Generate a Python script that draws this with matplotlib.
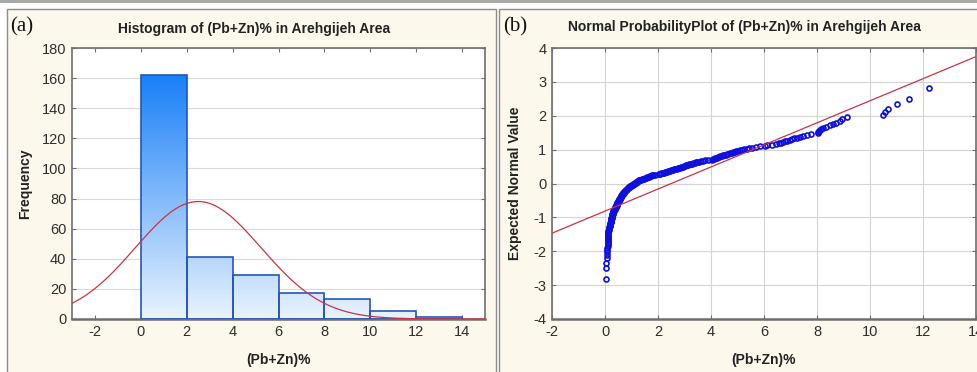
"""Histogram and normal probability plot of (Pb+Zn)% in the Arehgijeh area."""

from statistics import NormalDist

import matplotlib

matplotlib.use("Agg")
import matplotlib.pyplot as plt
import numpy as np
from matplotlib.colors import LinearSegmentedColormap
from matplotlib.patches import Rectangle

plt.rcParams["font.family"] = ["Liberation Sans", "DejaVu Sans"]
plt.rcParams["axes.unicode_minus"] = False

# histogram (panel a)
bin_edges = [0, 2, 4, 6, 8, 10, 12, 14]
bin_counts = [162, 41, 29, 17, 13, 5, 1]
fit_mean = 2.5   # fitted normal curve drawn over the histogram
fit_sd = 2.74

# sorted (Pb+Zn)% values (panel b)
pbzn_sorted = [
    0.04, 0.05, 0.05, 0.06, 0.07, 0.08, 0.09, 0.09, 0.10, 0.10,
    0.10, 0.11, 0.11, 0.11, 0.11, 0.12, 0.12, 0.12, 0.12, 0.13,
    0.13, 0.13, 0.14, 0.14, 0.15, 0.16, 0.16, 0.17, 0.18, 0.19,
    0.19, 0.20, 0.20, 0.21, 0.21, 0.22, 0.22, 0.23, 0.23, 0.24,
    0.24, 0.25, 0.25, 0.26, 0.26, 0.27, 0.27, 0.28, 0.28, 0.29,
    0.29, 0.30, 0.30, 0.31, 0.32, 0.32, 0.33, 0.34, 0.35, 0.36,
    0.36, 0.37, 0.38, 0.38, 0.39, 0.40, 0.41, 0.41, 0.42, 0.43,
    0.44, 0.44, 0.45, 0.45, 0.46, 0.47, 0.47, 0.48, 0.48, 0.49,
    0.50, 0.51, 0.51, 0.52, 0.53, 0.54, 0.55, 0.55, 0.56, 0.57,
    0.58, 0.59, 0.59, 0.60, 0.61, 0.62, 0.62, 0.63, 0.64, 0.65,
    0.66, 0.67, 0.68, 0.68, 0.69, 0.70, 0.71, 0.72, 0.73, 0.75,
    0.76, 0.77, 0.78, 0.80, 0.81, 0.82, 0.83, 0.84, 0.86, 0.87,
    0.88, 0.89, 0.90, 0.91, 0.93, 0.94, 0.96, 0.98, 1.00, 1.03,
    1.05, 1.07, 1.08, 1.10, 1.12, 1.14, 1.16, 1.17, 1.19, 1.21,
    1.23, 1.24, 1.26, 1.28, 1.30, 1.33, 1.36, 1.40, 1.43, 1.47,
    1.50, 1.53, 1.56, 1.59, 1.62, 1.65, 1.68, 1.71, 1.74, 1.78,
    1.83, 1.88,
    2.02, 2.05, 2.09, 2.13, 2.17, 2.21, 2.26, 2.30, 2.34, 2.38,
    2.42, 2.46, 2.50, 2.54, 2.58, 2.62, 2.66, 2.70, 2.74, 2.78,
    2.82, 2.86, 2.90, 2.94, 2.98, 3.02, 3.06, 3.10, 3.14, 3.18,
    3.23, 3.28, 3.33, 3.38, 3.43, 3.49, 3.55, 3.61, 3.68, 3.76, 3.88,
    4.02, 4.06, 4.10, 4.14, 4.18, 4.22, 4.27, 4.31, 4.35, 4.40,
    4.45, 4.50, 4.55, 4.60, 4.66, 4.72, 4.78, 4.84, 4.90, 4.96,
    5.03, 5.10, 5.18, 5.26, 5.35, 5.44, 5.55, 5.68, 5.85,
    6.05, 6.12, 6.30, 6.45, 6.56, 6.64, 6.72, 6.80, 6.88, 6.97,
    7.06, 7.15, 7.25, 7.35, 7.48, 7.62, 7.78,
    8.02, 8.05, 8.08, 8.11, 8.15, 8.22, 8.35, 8.48, 8.60, 8.72,
    8.85, 8.95, 9.12,
    10.48, 10.55, 10.68, 11.00, 11.46,
    12.24,
]
line_mean = 2.5   # reference line of the probability plot
line_sd = 3.07

hist_xticks = list(range(-2, 15, 2))
hist_yticks = list(range(0, 181, 20))
prob_xticks = list(range(-2, 15, 2))
prob_yticks = list(range(-4, 5))

cream = "#fdf8ec"
frame_gray = "#8c8c8c"
spine_gray = "#6e6e6e"
text_dark = "#222222"

fig = plt.figure(figsize=(9.77, 3.72), dpi=100, facecolor="white")
W, H = 977, 372


def fig_rect(x0, y0, x1, y1, **kw):
    """Rectangle given in pixel coords, y measured from the top."""
    fig.patches.append(Rectangle((x0 / W, 1 - y1 / H), (x1 - x0) / W, (y1 - y0) / H,
                                 transform=fig.transFigure, figure=fig, zorder=-5, **kw))


# top gray band and the two panel frames
fig_rect(0, 0, 977, 3, facecolor="#a8a8a8", edgecolor="none")
fig_rect(7, 9, 496, 380, facecolor=cream, edgecolor=frame_gray, lw=1.0)
fig_rect(499, 9, 1000, 380, facecolor=cream, edgecolor=frame_gray, lw=1.0)


def style_axes(ax):
    for side in ("left", "bottom", "top", "right"):
        ax.spines[side].set_color(spine_gray)
        ax.spines[side].set_linewidth(1.2)
    ax.spines["bottom"].set_linewidth(1.8)
    ax.tick_params(axis="both", labelsize=10.5, colors=spine_gray, labelcolor="#2e2e2e",
                   length=3, width=0.8, top=True, right=True, pad=4)
    ax.tick_params(axis="both", which="both", direction="in")
    ax.set_axisbelow(True)


# ---- panel (a): histogram with fitted normal curve ----
ax_h = fig.add_axes([72 / W, 1 - 319 / H, 413 / W, 271 / H])
style_axes(ax_h)
ax_h.grid(axis="y", color="#d9d9d9", lw=0.8)

grad_cmap = LinearSegmentedColormap.from_list("bar_grad", ["#e9f3fd", "#1a80f8"])
ymax_bar = max(bin_counts)
for x0, x1, h in zip(bin_edges[:-1], bin_edges[1:], bin_counts):
    grad = np.linspace(0, h / ymax_bar, 120).reshape(-1, 1)
    ax_h.imshow(grad, extent=(x0, x1, 0, h), origin="lower", cmap=grad_cmap,
                vmin=0, vmax=1, aspect="auto", zorder=2, interpolation="bilinear")
widths = np.diff(bin_edges)
ax_h.bar(bin_edges[:-1], bin_counts, width=widths, align="edge", fill=False,
         edgecolor="#2456b8", lw=1.2, zorder=3)

n_total = sum(bin_counts)
xc = np.linspace(-3, 15, 400)
yc = n_total * widths[0] * np.exp(-0.5 * ((xc - fit_mean) / fit_sd) ** 2) / (fit_sd * np.sqrt(2 * np.pi))
ax_h.plot(xc, yc, color="#cc3344", lw=0.9, zorder=4)

ax_h.set_xlim(-3, 15)
ax_h.set_ylim(0, 180)
ax_h.set_xticks(hist_xticks)
ax_h.set_yticks(hist_yticks)
ax_h.set_xlabel("(Pb+Zn)%", fontsize=10, fontweight="bold", color=text_dark)
ax_h.set_ylabel("Frequency", fontsize=10, fontweight="bold", color=text_dark)
ax_h.xaxis.set_label_coords(0.5, -0.125)
ax_h.yaxis.set_label_coords(-0.097, 0.5)
fig.text(254 / W, 1 - 29 / H, "Histogram of (Pb+Zn)% in Arehgijeh Area", ha="center",
         va="center", fontsize=10, fontweight="bold", color=text_dark)
fig.text(10 / W, 1 - 27 / H, "(a)", ha="left", va="center", fontsize=15,
         family="Liberation Serif", color="#111111")

# ---- panel (b): normal probability plot ----
ax_p = fig.add_axes([552 / W, 1 - 319 / H, 424 / W, 271 / H])
style_axes(ax_p)
ax_p.grid(color="#d4d4d4", lw=0.8)

n = len(pbzn_sorted)
nd = NormalDist()
expected = [nd.inv_cdf((i - 0.375) / (n + 0.25)) for i in range(1, n + 1)]
ax_p.plot(pbzn_sorted, expected, "o", ms=3.6, mfc="none", mec="#1010dd", mew=1.2, zorder=3)

xl = np.array([-2, 14])
ax_p.plot(xl, (xl - line_mean) / line_sd, color="#cc3344", lw=0.9, zorder=4)

ax_p.set_xlim(-2, 14)
ax_p.set_ylim(-4, 4)
ax_p.set_xticks(prob_xticks)
ax_p.set_yticks(prob_yticks)
ax_p.set_xlabel("(Pb+Zn)%", fontsize=10, fontweight="bold", color=text_dark)
ax_p.set_ylabel("Expected Normal Value", fontsize=10, fontweight="bold", color=text_dark)
ax_p.xaxis.set_label_coords(0.5, -0.125)
ax_p.yaxis.set_label_coords(-0.071, 0.5)
fig.text(744 / W, 1 - 27 / H, "Normal ProbabilityPlot of (Pb+Zn)% in Arehgijeh Area",
         ha="center", va="center", fontsize=10, fontweight="bold", color=text_dark)
fig.text(503 / W, 1 - 27 / H, "(b)", ha="left", va="center", fontsize=15,
         family="Liberation Serif", color="#111111")

fig.savefig("out.png", dpi=100, facecolor=fig.get_facecolor())
plt.close(fig)
